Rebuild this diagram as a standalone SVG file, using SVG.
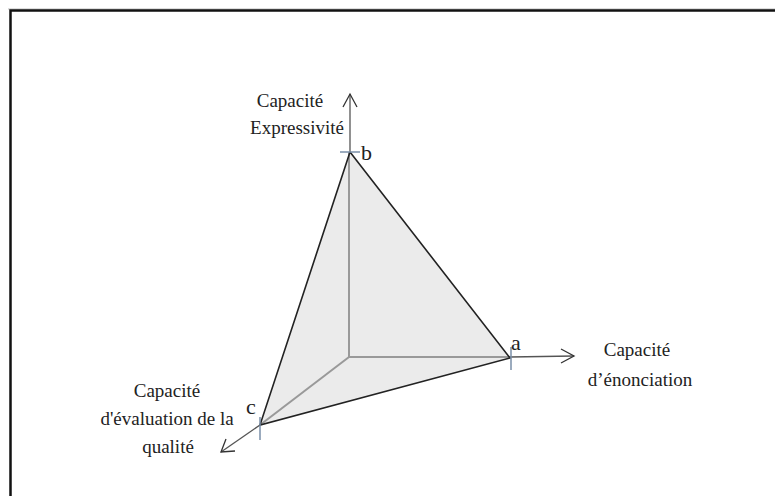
<svg xmlns="http://www.w3.org/2000/svg" width="775" height="496" viewBox="0 0 775 496">
<style>
text{font-family:"Liberation Serif",serif;font-size:19px;fill:#222}
.lbl{text-anchor:middle}
.pt{font-size:22px}
.axis{stroke:#555;stroke-width:1.3;fill:none}
.inner{stroke:#999;stroke-width:2;fill:none}
.edge{stroke:#222;stroke-width:1.6;fill:none}
.tick{stroke:#7a8fa8;stroke-width:1.5}
.head{stroke:#333;stroke-width:1.3;fill:none}
</style>
<rect width="775" height="496" fill="#fff"/>
<line x1="8" y1="9" x2="775" y2="9" stroke="#bbb" stroke-width="1"/>
<polyline points="10.5,496 10.5,10.5 775,10.5" fill="none" stroke="#111" stroke-width="2.5"/>
<g id="face">
<polygon points="350,152 510,358 260,425" fill="#ebebeb"/>
</g>
<g id="connectors">
<line class="inner" x1="349" y1="357" x2="349" y2="152"/>
<line class="inner" x1="349" y1="357" x2="510" y2="357"/>
<line class="inner" x1="349" y1="357" x2="260" y2="425"/>
<line class="axis" x1="350" y1="152" x2="350" y2="94"/>
<polyline class="head" points="343,107 350,94 357,107"/>
<line class="axis" x1="510" y1="357" x2="574" y2="356"/>
<polyline class="head" points="561,349 574,356 561,363"/>
<line class="axis" x1="260" y1="425" x2="221" y2="452"/>
<polyline class="head" points="235,451 221,452 226,439"/>
<polyline class="edge" points="350,152 510,358 260,425 350,152"/>
<line class="tick" x1="340" y1="152" x2="360" y2="152"/>
<line class="tick" x1="511" y1="347" x2="511" y2="370"/>
<line class="tick" x1="260" y1="417" x2="260" y2="440"/>
</g>
<g id="node-b">
<text class="pt" x="361" y="160">b</text>
<text class="lbl" x="290" y="107">Capacité</text>
<text class="lbl" x="297" y="134">Expressivité</text>
</g>
<g id="node-a">
<text class="pt" x="511" y="350">a</text>
<text class="lbl" x="637" y="356">Capacité</text>
<text class="lbl" x="640" y="386">d’énonciation</text>
</g>
<g id="node-c">
<text class="pt" x="246" y="414">c</text>
<text class="lbl" x="167" y="397">Capacité</text>
<text class="lbl" x="167" y="425">d'évaluation de la</text>
<text class="lbl" x="168" y="453">qualité</text>
</g>
</svg>
